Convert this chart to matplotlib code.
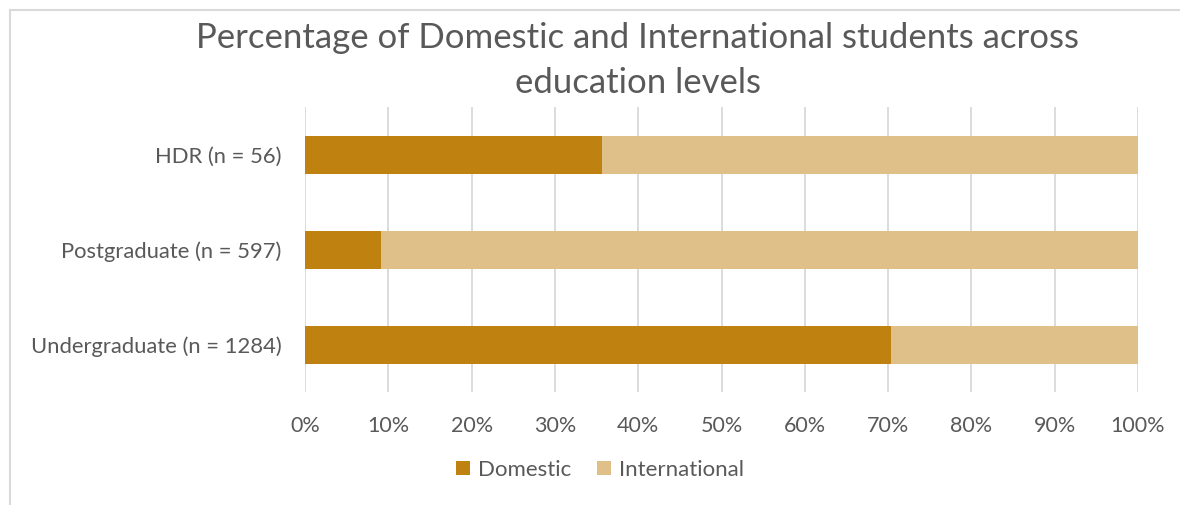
import matplotlib
matplotlib.use("Agg")
import matplotlib.pyplot as plt
from matplotlib.patches import Rectangle
from matplotlib.ticker import PercentFormatter

# Data
categories = ["Undergraduate (n = 1284)", "Postgraduate (n = 597)", "HDR (n = 56)"]
domestic_pct = [70.4, 9.1, 35.7]
international_pct = [29.6, 90.9, 64.3]
series_names = ["Domestic", "International"]
x_ticks = [0, 10, 20, 30, 40, 50, 60, 70, 80, 90, 100]

TEXT = "#595959"
GRID = "#D9D9D9"
C_DOM = "#BF8211"
C_INT = "#DFC088"

plt.rcParams["font.family"] = ["Lato", "DejaVu Sans"]

W, H = 1180, 505
fig = plt.figure(figsize=(W / 100, H / 100), dpi=100)

# chart-area border (left and top edges visible)
fig.patches.append(Rectangle((9.5 / W, -0.1), 1.2, 1 - 9.5 / H + 0.1,
                             transform=fig.transFigure, fill=False,
                             edgecolor=GRID, linewidth=1.5))

ax = fig.add_axes([305 / W, 1 - 392 / H, (1138 - 305) / W, (392 - 107) / H])

y = list(range(len(categories)))
ax.barh(y, domestic_pct, height=0.4, color=C_DOM, label=series_names[0], zorder=3)
ax.barh(y, international_pct, left=domestic_pct, height=0.4, color=C_INT,
        label=series_names[1], zorder=3)

ax.set_xlim(0, 100)
ax.set_ylim(-0.5, 2.5)
ax.set_xticks(x_ticks)
ax.xaxis.set_major_formatter(PercentFormatter(decimals=0))
ax.set_yticks(y)
ax.set_yticklabels(categories)
ax.grid(axis="x", color=GRID, linewidth=1.3, zorder=0)
ax.set_axisbelow(True)
for s in ax.spines.values():
    s.set_visible(False)
ax.tick_params(axis="x", length=0, labelsize=15.5, colors=TEXT, pad=17)
ax.tick_params(axis="y", length=0, labelsize=15.8, colors=TEXT, pad=17)

fig.text(638 / W, 1 - 38 / H, "Percentage of Domestic and International students across",
         ha="center", va="center", fontsize=25, color=TEXT)
fig.text(638 / W, 1 - 83 / H, "education levels",
         ha="center", va="center", fontsize=25, color=TEXT)

leg = fig.legend(loc="center", bbox_to_anchor=(600 / W, 1 - 470 / H), ncol=2,
                 frameon=False, fontsize=16, handlelength=0.62, handleheight=0.62,
                 handletextpad=0.35, columnspacing=1.2)
for t in leg.get_texts():
    t.set_color(TEXT)

fig.savefig("out.png", dpi=100)
